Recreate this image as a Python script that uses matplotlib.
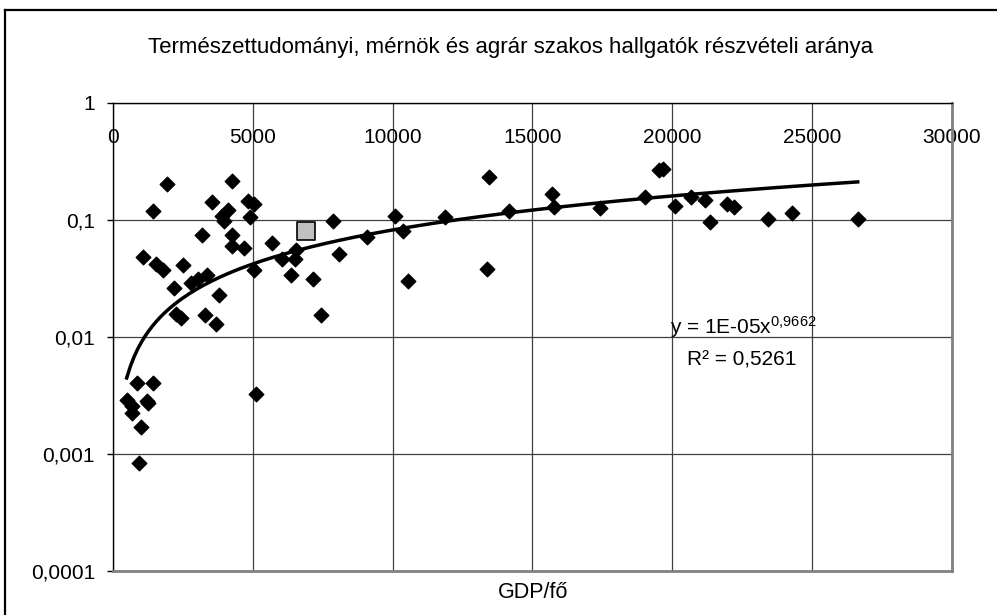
import numpy as np
import matplotlib.pyplot as plt
from matplotlib.lines import Line2D
from matplotlib.ticker import FixedLocator, FixedFormatter, NullLocator

plt.rcParams['font.family'] = ['Liberation Sans', 'DejaVu Sans']
plt.rcParams['mathtext.fontset'] = 'custom'
plt.rcParams['mathtext.rm'] = 'Liberation Sans'
plt.rcParams['mathtext.it'] = 'Liberation Sans'

# GDP/fő and participation rate (diamonds)
gdp = [1944, 1421, 4260, 3544, 4822, 5048, 4106, 3902, 3974, 4915,
       3175, 4260, 4260, 4690, 5703, 1074, 1529, 1801, 2517, 6551,
       6516, 6061, 6372, 7149, 7887, 8080, 9082, 10106, 5048, 2803,
       3054, 3376, 2184, 3806, 2245, 2434, 3304, 3677, 7436, 848,
       1421, 490, 669, 691, 1206, 1264, 992, 931, 5109, 10393,
       10561, 11861, 13450, 13378, 14166, 15691, 15762, 17423, 19020, 19521,
       19679, 20109, 20682, 21194, 21348, 21971, 22207, 23449, 24308, 26645]
rate = [0.201, 0.120, 0.214, 0.142, 0.144, 0.137, 0.121, 0.108, 0.0977, 0.1057,
        0.0745, 0.0736, 0.0597, 0.0574, 0.063, 0.0483, 0.0418, 0.037, 0.0408, 0.0554,
        0.0465, 0.0459, 0.0341, 0.031, 0.097, 0.0507, 0.0713, 0.109, 0.037, 0.0286,
        0.0313, 0.0335, 0.0264, 0.0228, 0.0156, 0.0145, 0.0155, 0.013, 0.0155, 0.00403,
        0.00403, 0.00287, 0.00255, 0.00225, 0.00283, 0.00272, 0.00168, 0.00084, 0.00323, 0.0802,
        0.0299, 0.106, 0.231, 0.0384, 0.1196, 0.165, 0.1294, 0.126, 0.157, 0.267,
        0.274, 0.131, 0.156, 0.148, 0.0964, 0.1366, 0.130, 0.101, 0.115, 0.101]

# highlighted country (grey square)
hl_gdp = [6899]
hl_rate = [0.0797]

# power trendline y = a * x^b
trend_a = 1.12e-5
trend_b = 0.9662

xticks = [0, 5000, 10000, 15000, 20000, 25000, 30000]
yticks = [0.0001, 0.001, 0.01, 0.1, 1]
ylabels = ['0,0001', '0,001', '0,01', '0,1', '1']

fig = plt.figure(figsize=(9.97, 6.15), dpi=100)
ax = fig.add_axes([113 / 997, 1 - 570.7 / 615, 838.5 / 997, 467.7 / 615])

ax.set_yscale('log')
ax.set_xlim(0, 30000)
ax.set_ylim(0.0001, 1)

ax.xaxis.set_major_locator(FixedLocator(xticks))
ax.yaxis.set_major_locator(FixedLocator(yticks))
ax.yaxis.set_major_formatter(FixedFormatter(ylabels))
ax.yaxis.set_minor_locator(NullLocator())

ax.grid(True, which='major', color='#404040', lw=0.9)
ax.set_axisbelow(True)

ax.tick_params(axis='x', top=False, bottom=False, labeltop=True, labelbottom=False,
               pad=-35, labelsize=15)
ax.tick_params(axis='y', direction='out', length=4.5, width=1, pad=8.5, labelsize=15)

for side in ['left', 'top']:
    ax.spines[side].set_color('black')
    ax.spines[side].set_linewidth(1)
for side in ['right', 'bottom']:
    ax.spines[side].set_color('#808080')
    ax.spines[side].set_linewidth(2)

xs = np.linspace(min(gdp), max(gdp), 200)
ax.plot(xs, trend_a * xs ** trend_b, color='black', lw=2.5, zorder=3)

ax.scatter(gdp, rate, marker='D', s=55, color='black', zorder=4)
ax.scatter(hl_gdp, hl_rate, marker='s', s=150, facecolor='#c0c0c0',
           edgecolor='black', linewidth=1.2, zorder=5)

ax.text(22550, 0.0107, r'y = 1E-05x$^{\mathrm{0{,}9662}}$', fontsize=15,
        ha='center', va='baseline', zorder=6)
ax.text(22480, 0.00571, 'R² = 0,5261', fontsize=15, ha='center', va='baseline', zorder=6)

fig.text(511 / 997, 1 - 47 / 615, 'Természettudományi, mérnök és agrár szakos hallgatók részvételi aránya',
         ha='center', va='center', fontsize=16)
fig.text(533 / 997, 1 - 593 / 615, 'GDP/fő', ha='center', va='center', fontsize=15.5)

# chart area frame (left and top edges visible)
fig.add_artist(Line2D([5 / 997, 5 / 997], [0, 1 - 10 / 615], color='black', lw=1.6,
                      transform=fig.transFigure))
fig.add_artist(Line2D([5 / 997, 1], [1 - 10 / 615, 1 - 10 / 615], color='black', lw=1.6,
                      transform=fig.transFigure))

fig.savefig('out.png', dpi=100)
